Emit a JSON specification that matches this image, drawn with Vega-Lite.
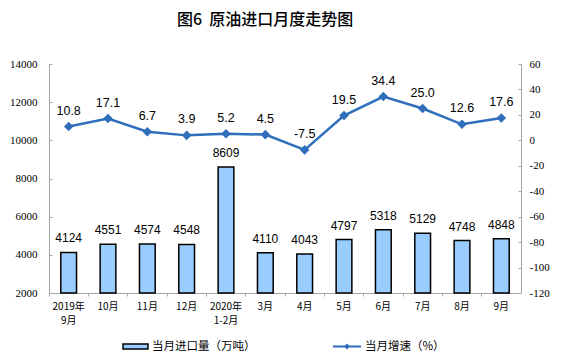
{
  "$schema": "https://vega.github.io/schema/vega-lite/v6.json",
  "width": 472,
  "height": 229,
  "autosize": "none",
  "padding": {"left": 49, "top": 64, "right": 42, "bottom": 69},
  "background": "white",
  "config": {
    "view": {"stroke": null},
    "locale": {"number": {"decimal": ".", "thousands": ",", "grouping": [3], "currency": ["", ""], "minus": "-"}}
  },
  "title": {
    "text": "图6\u00a0\u00a0原油进口月度走势图",
    "anchor": "start",
    "frame": "group",
    "dx": 128,
    "offset": 30,
    "font": "Noto Sans CJK SC",
    "fontSize": 16,
    "fontWeight": 500,
    "color": "#000000"
  },
  "data": {
    "values": [
      {"m": "2019年\n9月", "vol": 4124, "g": 10.8},
      {"m": "10月", "vol": 4551, "g": 17.1},
      {"m": "11月", "vol": 4574, "g": 6.7},
      {"m": "12月", "vol": 4548, "g": 3.9},
      {"m": "2020年\n1-2月", "vol": 8609, "g": 5.2},
      {"m": "3月", "vol": 4110, "g": 4.5},
      {"m": "4月", "vol": 4043, "g": -7.5},
      {"m": "5月", "vol": 4797, "g": 19.5},
      {"m": "6月", "vol": 5318, "g": 34.4},
      {"m": "7月", "vol": 5129, "g": 25.0},
      {"m": "8月", "vol": 4748, "g": 12.6},
      {"m": "9月", "vol": 4848, "g": 17.6}
    ]
  },
  "encoding": {
    "x": {
      "field": "m",
      "type": "nominal",
      "sort": null,
      "scale": {"paddingInner": 0, "paddingOuter": 0},
      "axis": {
        "title": null,
        "labelAngle": 0,
        "labelExpr": "split(datum.label, '\\n')",
        "labelFont": "Noto Sans CJK SC",
        "labelFontSize": 10,
        "labelColor": "#000000",
        "labelPadding": 5,
        "labelLineHeight": 14,
        "bandPosition": 0,
        "tickSize": 3,
        "tickColor": "#A6A6A6",
        "domainColor": "#A6A6A6",
        "grid": false
      }
    }
  },
  "layer": [
    {
      "encoding": {
        "y": {
          "field": "vol",
          "type": "quantitative",
          "scale": {"domain": [2000, 14000], "zero": false, "nice": false},
          "axis": {
            "title": null,
            "values": [2000, 4000, 6000, 8000, 10000, 12000, 14000],
            "format": "d",
            "labelFont": "Liberation Serif",
            "labelFontSize": 11,
            "labelColor": "#000000",
            "tickSize": -3,
            "labelPadding": 15,
            "tickColor": "#A6A6A6",
            "domainColor": "#A6A6A6",
            "grid": false
          }
        }
      },
      "layer": [
        {
          "mark": {"type": "bar", "width": {"band": 0.4}, "stroke": "#000000", "strokeWidth": 1.5},
          "encoding": {
            "y2": {"datum": 2000},
            "fill": {
              "datum": "当月进口量（万吨）",
              "type": "nominal",
              "scale": {"range": ["#99CCFF"]},
              "legend": {
                "orient": "none",
                "legendX": 73,
                "legendY": 269,
                "title": null,
                "symbolType": "M-1,-0.2H1V0.2H-1Z",
                "symbolSize": 625,
                "symbolStrokeColor": "#000000",
                "symbolStrokeWidth": 1.5,
                "labelFont": "Noto Sans CJK SC",
                "labelFontSize": 11.5,
                "labelColor": "#000000",
                "labelOffset": 3
              }
            }
          }
        },
        {
          "mark": {"type": "text", "dy": -7, "baseline": "bottom", "font": "Liberation Sans", "fontSize": 12, "color": "#000000"},
          "encoding": {"text": {"field": "vol", "type": "quantitative", "format": "d"}}
        }
      ]
    },
    {
      "encoding": {
        "y": {
          "field": "g",
          "type": "quantitative",
          "scale": {"domain": [-120, 60], "nice": false},
          "axis": {
            "title": null,
            "orient": "right",
            "values": [-120, -100, -80, -60, -40, -20, 0, 20, 40, 60],
            "format": "d",
            "labelFont": "Liberation Serif",
            "labelFontSize": 11,
            "labelColor": "#000000",
            "tickSize": -3,
            "labelPadding": 11,
            "tickColor": "#A6A6A6",
            "domainColor": "#A6A6A6",
            "grid": false
          }
        }
      },
      "layer": [
        {
          "mark": {"type": "line", "strokeWidth": 2.5, "point": {"shape": "diamond", "filled": true, "size": 45, "color": "#2E6EBA"}},
          "encoding": {
            "stroke": {
              "datum": "当月增速（%）",
              "type": "nominal",
              "scale": {"range": ["#2E6EBA"]},
              "legend": {
                "orient": "none",
                "legendX": 283,
                "legendY": 267.5,
                "title": null,
                "symbolType": "M-1,0H1M-0.11,0L0,-0.11L0.11,0L0,0.11Z",
                "symbolSize": 784,
                "symbolStrokeWidth": 2,
                "symbolFillColor": "#2E6EBA",
                "labelFont": "Noto Sans CJK SC",
                "labelFontSize": 11.5,
                "labelColor": "#000000",
                "labelOffset": 3
              }
            }
          }
        },
        {
          "mark": {"type": "text", "dy": -9, "baseline": "bottom", "font": "Liberation Sans", "fontSize": 12.5, "color": "#000000"},
          "encoding": {"text": {"field": "g", "type": "quantitative", "format": ".1f"}}
        }
      ]
    }
  ],
  "resolve": {"scale": {"y": "independent", "fill": "independent", "stroke": "independent"}}
}
